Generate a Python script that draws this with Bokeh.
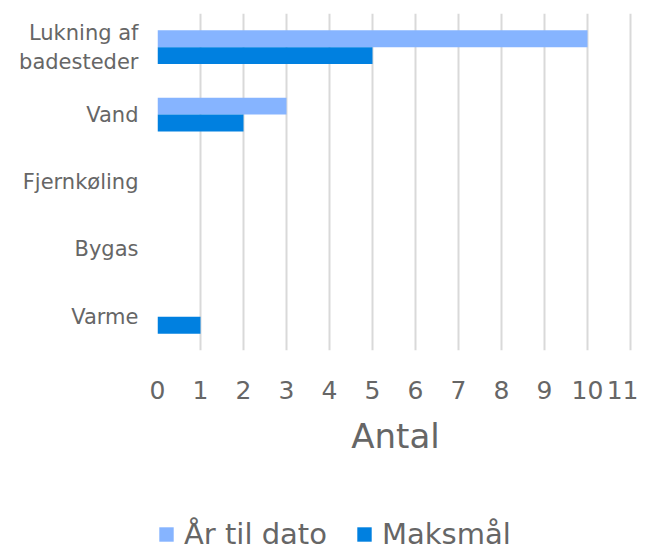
from bokeh.plotting import figure
from bokeh.layouts import column
from bokeh.models import (ColumnDataSource, FactorRange, Range1d, FixedTicker,
                          Legend, LegendItem)
from bokeh.transform import dodge
from bokeh.embed import file_html
from bokeh.resources import INLINE

categories = ["Lukning af\nbadesteder", "Vand", "Fjernkøling", "Bygas", "Varme"]
aar_til_dato = [10, 3, 0, 0, 0]
maksmaal = [5, 2, 0, 0, 1]
series_names = ["År til dato", "Maksmål"]
x_ticks = list(range(0, 12))

FONT = "DejaVu Sans"
TXT = "#666666"
C_LIGHT = "#86B4FF"
C_DARK = "#0080E0"

src = ColumnDataSource(dict(cat=categories, a=aar_til_dato, m=maksmaal))

p = figure(frame_width=476, frame_height=337, output_backend="svg", toolbar_location=None,
           y_range=FactorRange(factors=list(reversed(categories)), range_padding=0),
           x_range=Range1d(0, 11.07),
           min_border_left=157, min_border_right=5, min_border_top=13,
           min_border_bottom=167)

r1 = p.hbar(y=dodge("cat", 0.125, range=p.y_range), right="a", left=0, height=0.25,
            source=src, fill_color=C_LIGHT, line_color=None)
r2 = p.hbar(y=dodge("cat", -0.125, range=p.y_range), right="m", left=0, height=0.25,
            source=src, fill_color=C_DARK, line_color=None)

p.outline_line_color = None
p.ygrid.grid_line_color = None
p.xgrid.grid_line_color = "#D9D9D9"
p.xgrid.grid_line_width = 2

p.xaxis.ticker = FixedTicker(ticks=x_ticks)
p.xaxis.axis_line_color = None
p.xaxis.major_tick_line_color = None
p.xaxis.minor_tick_line_color = None
p.xaxis.major_label_text_font = FONT
p.xaxis.major_label_text_font_size = "25px"
p.xaxis.major_label_text_color = TXT
p.xaxis.major_label_standoff = 24
p.xaxis.axis_label = "Antal"
p.xaxis.axis_label_text_font = FONT
p.xaxis.axis_label_text_font_size = "34px"
p.xaxis.axis_label_text_font_style = "normal"
p.xaxis.axis_label_text_color = TXT
p.xaxis.axis_label_standoff = 14

p.yaxis.axis_line_color = None
p.yaxis.major_tick_line_color = None
p.yaxis.minor_tick_line_color = None
p.yaxis.major_label_text_font = FONT
p.yaxis.major_label_text_font_size = "21px"
p.yaxis.major_label_text_color = TXT
p.yaxis.major_label_standoff = 13

# separate strip holding the legend below the chart
lg = figure(width=630, height=34, output_backend="svg", toolbar_location=None,
            x_range=Range1d(0, 1), y_range=Range1d(0, 1),
            x_axis_location=None, y_axis_location=None,
            min_border_left=0, min_border_right=0, min_border_top=0,
            min_border_bottom=0)
lg.outline_line_color = None
lg.xgrid.grid_line_color = None
lg.ygrid.grid_line_color = None
dummy = ColumnDataSource(dict(y=[-5.0], right=[0.0]))
d1 = lg.hbar(y="y", right="right", left=0, height=0.1, source=dummy,
             fill_color=C_LIGHT, line_color=None)
d2 = lg.hbar(y="y", right="right", left=0, height=0.1, source=dummy,
             fill_color=C_DARK, line_color=None)

legend = Legend(items=[LegendItem(label=series_names[0], renderers=[d1], index=0),
                       LegendItem(label=series_names[1], renderers=[d2], index=0)],
                orientation="horizontal", location=(0, 0))
legend.label_text_font = FONT
legend.label_text_font_size = "29px"
legend.label_height = 32
legend.label_text_color = TXT
legend.glyph_width = 18
legend.glyph_height = 18
legend.spacing = 28
legend.label_standoff = 9
legend.border_line_color = None
legend.background_fill_alpha = 0
legend.padding = 0
legend.margin = 0
lg.add_layout(legend, "center")

layout = column(p, lg, spacing=0)
open("out.html", "w").write(file_html(layout, INLINE))
